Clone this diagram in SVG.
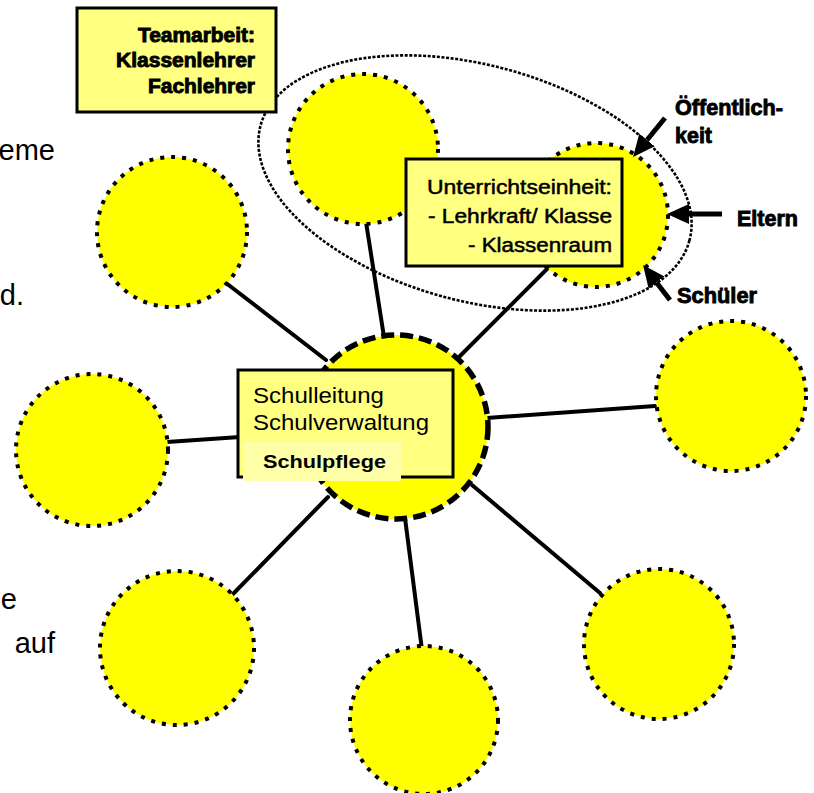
<svg xmlns="http://www.w3.org/2000/svg" width="814" height="793" viewBox="0 0 814 793">
<defs>
<style>
.bg{fill:#ffffff}
.node{fill:#ffff00;stroke:#000;stroke-width:4;stroke-dasharray:4 7}
.hub{fill:#ffff00;stroke:#000;stroke-width:5.5;stroke-dasharray:13 6}
.con line{stroke:#000;stroke-width:4;stroke-linecap:round}
.box{fill:#ffff80;stroke:#000;stroke-width:3}
.grp{fill:none;stroke:#000;stroke-width:2.6;stroke-dasharray:3 1.6}
.arr{stroke:#000;stroke-width:5;fill:none}
.t{font-family:"Liberation Sans",Arial,sans-serif;fill:#000}
.b{font-weight:bold}
.heavy{stroke:#000;stroke-width:0.9}
.side{font-family:"Liberation Sans",Arial,sans-serif;font-size:29px;fill:#000;text-anchor:end}
</style>
<marker id="head" markerUnits="userSpaceOnUse" markerWidth="22" markerHeight="20" viewBox="0 0 22 20" refX="0" refY="10" orient="auto">
<path d="M0,0 L22,10 L0,20 z" fill="#000"/>
</marker>
</defs>
<rect class="bg" x="0" y="0" width="814" height="793"/>

<g id="side-text">
<text class="side" x="55" y="160">eme</text>
<text class="side" x="24" y="305">d.</text>
<text class="side" x="17" y="609">e</text>
<text class="side" x="55" y="653">auf</text>
</g>

<g id="connectors" class="con">
<line x1="226" y1="283" x2="326" y2="360"/>
<line x1="366" y1="222" x2="384" y2="337"/>
<line x1="560" y1="256" x2="460" y2="356"/>
<line x1="167" y1="442" x2="240" y2="437"/>
<line x1="655" y1="406" x2="487" y2="418"/>
<line x1="232" y1="595" x2="328" y2="497"/>
<line x1="422" y1="650" x2="405" y2="518"/>
<line x1="600" y1="593" x2="472" y2="485"/>
</g>

<g id="node-topleft"><circle class="node" cx="172" cy="232" r="75"/></g>
<g id="node-team"><circle class="node" cx="363" cy="149" r="75"/></g>
<g id="node-unterricht"><circle class="node" cx="596" cy="215" r="72"/></g>
<g id="node-left"><circle class="node" cx="92" cy="450" r="76"/></g>
<g id="node-right"><circle class="node" cx="731" cy="396" r="75"/></g>
<g id="node-bottomleft"><circle class="node" cx="177" cy="648" r="77"/></g>
<g id="node-bottom"><circle class="node" cx="424" cy="720" r="74"/></g>
<g id="node-bottomright"><circle class="node" cx="659" cy="644" r="75"/></g>

<g id="group-ellipse"><ellipse class="grp" cx="475" cy="183" rx="222" ry="118" transform="rotate(15 475 183)"/></g>

<g id="node-center">
<circle class="hub" cx="396" cy="427" r="92"/>
<rect class="box" x="238" y="370" width="215" height="107"/>
<rect x="243" y="442" width="158" height="39" fill="#ffffa8"/>
<text class="t" x="253" y="403" font-size="22" textLength="131" lengthAdjust="spacingAndGlyphs">Schulleitung</text>
<text class="t" x="253" y="430" font-size="22" textLength="176" lengthAdjust="spacingAndGlyphs">Schulverwaltung</text>
<text class="t b" x="263" y="468" font-size="19" textLength="123" lengthAdjust="spacingAndGlyphs">Schulpflege</text>
</g>

<g id="label-team">
<rect class="box" x="77" y="8" width="199" height="104"/>
<text class="t b heavy" x="138" y="42" font-size="20" textLength="117" lengthAdjust="spacingAndGlyphs">Teamarbeit:</text>
<text class="t b heavy" x="116" y="67" font-size="20" textLength="139" lengthAdjust="spacingAndGlyphs">Klassenlehrer</text>
<text class="t b heavy" x="148" y="93" font-size="20" textLength="107" lengthAdjust="spacingAndGlyphs">Fachlehrer</text>
</g>

<g id="label-unterricht">
<rect class="box" x="406" y="159" width="216" height="107"/>
<text class="t" x="427" y="194" font-size="20" textLength="185" lengthAdjust="spacingAndGlyphs" style="stroke:#000;stroke-width:0.5">Unterrichtseinheit:</text>
<text class="t" x="428" y="223" font-size="20" textLength="184" lengthAdjust="spacingAndGlyphs" style="stroke:#000;stroke-width:0.5">- Lehrkraft/ Klasse</text>
<text class="t" x="468" y="252" font-size="20" textLength="144" lengthAdjust="spacingAndGlyphs" style="stroke:#000;stroke-width:0.5">- Klassenraum</text>
</g>

<g id="influences">
<line class="arr" x1="665" y1="118" x2="647" y2="140" marker-end="url(#head)"/>
<line class="arr" x1="722" y1="214" x2="689" y2="214" marker-end="url(#head)"/>
<line class="arr" x1="670" y1="300" x2="656.5" y2="282.5" marker-end="url(#head)"/>
<text class="t b heavy" x="675" y="115" font-size="22" textLength="108" lengthAdjust="spacingAndGlyphs">Öffentlich-</text>
<text class="t b heavy" x="675" y="143" font-size="22" textLength="37" lengthAdjust="spacingAndGlyphs">keit</text>
<text class="t b heavy" x="737" y="226" font-size="22" textLength="61" lengthAdjust="spacingAndGlyphs">Eltern</text>
<text class="t b heavy" x="677" y="303" font-size="22" textLength="80" lengthAdjust="spacingAndGlyphs">Schüler</text>
</g>
</svg>
